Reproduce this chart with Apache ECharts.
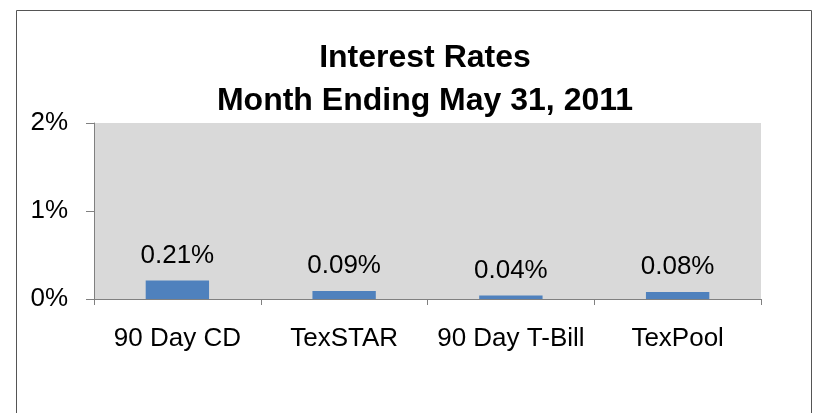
<!DOCTYPE html>
<html>
<head>
<meta charset="utf-8">
<script src="https://cdn.jsdelivr.net/npm/echarts@6/dist/echarts.min.js"></script>
<style>
  html, body { margin: 0; padding: 0; background: #fff; }
  #main { width: 820px; height: 413px; }
</style>
</head>
<body>
<div id="main"></div>
<script>
var categories = ['90 Day CD', 'TexSTAR', '90 Day T-Bill', 'TexPool'];
var rates = [0.21, 0.09, 0.04, 0.08]; // percent
var yTicks = [0, 1, 2];

var myChart = echarts.init(document.getElementById('main'));

var option = {
  backgroundColor: '#fff',
  textStyle: { fontFamily: 'Liberation Sans, Arial, sans-serif' },
  graphic: [{
    type: 'rect',
    shape: { x: 16.5, y: 10.5, width: 795, height: 420 },
    style: { fill: 'none', stroke: '#555', lineWidth: 1 },
    silent: true
  }],
  title: {
    text: 'Interest Rates\nMonth Ending May 31, 2011',
    left: 420,
    top: 32,
    textAlign: 'center',
    textStyle: {
      fontFamily: 'Liberation Sans, Arial, sans-serif',
      fontSize: 32,
      fontWeight: 'bold',
      color: '#000',
      lineHeight: 43
    }
  },
  grid: { left: 94, right: 59, top: 123, bottom: 114 },
  xAxis: {
    type: 'category',
    data: categories,
    axisLine: { show: true, lineStyle: { color: '#808080', width: 1 } },
    axisTick: { show: true, alignWithLabel: false, length: 6, lineStyle: { color: '#808080' } },
    axisLabel: { color: '#000', fontSize: 26, margin: 27, interval: 0, hideOverlap: false }
  },
  yAxis: {
    type: 'value',
    min: yTicks[0],
    max: yTicks[yTicks.length - 1],
    interval: 1,
    axisLine: { show: true, lineStyle: { color: '#808080', width: 1 } },
    axisTick: { show: true, inside: false, length: 8, lineStyle: { color: '#808080' } },
    splitLine: { show: false },
    splitArea: { show: true, areaStyle: { color: ['#d9d9d9', '#d9d9d9'] } },
    axisLabel: {
      color: '#000',
      fontSize: 26,
      margin: 26,
      formatter: '{value}%'
    }
  },
  series: [{
    type: 'bar',
    data: rates,
    barWidth: '38%',
    itemStyle: { color: '#4f81bd' },
    label: {
      show: true,
      position: 'top',
      distance: 12,
      color: '#000',
      fontSize: 26,
      formatter: function (p) { return p.value.toFixed(2) + '%'; }
    }
  }],
  animation: false
};

myChart.setOption(option);
</script>
</body>
</html>
